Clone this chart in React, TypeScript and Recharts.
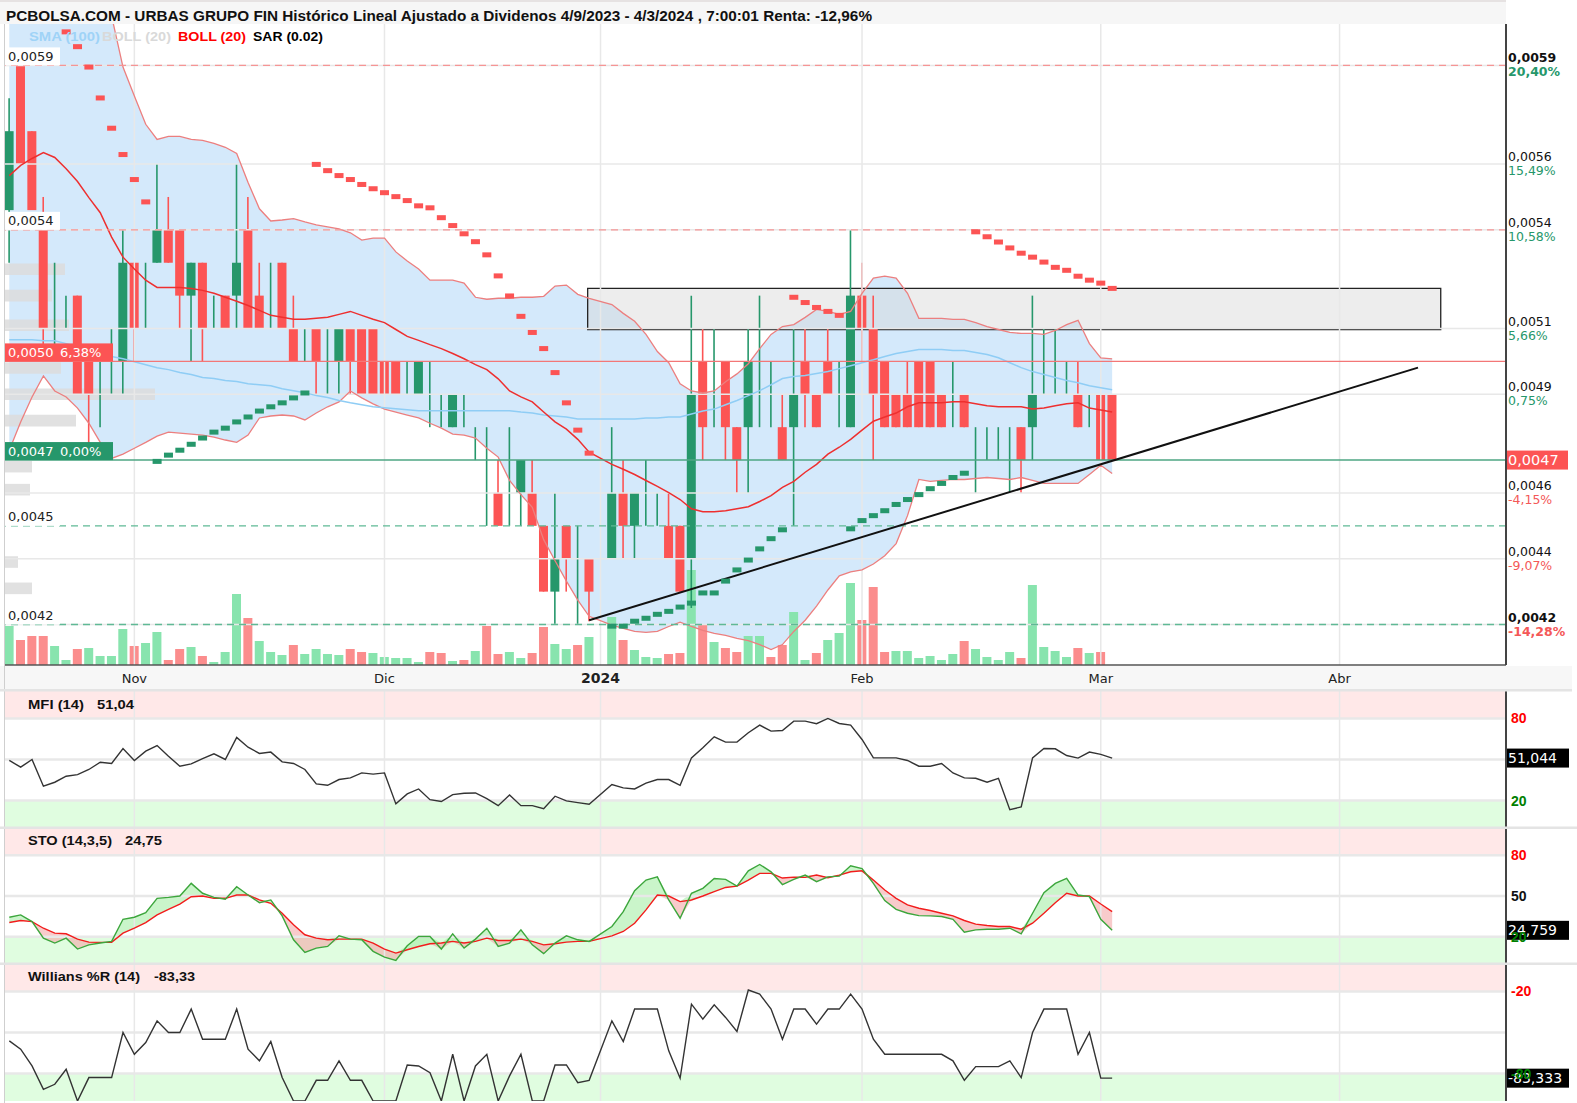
import React from "react";
import { Area, Bar, ComposedChart, Line, ReferenceArea, ReferenceLine, XAxis, YAxis } from "recharts";

// one slot per trading day; slot 52 is the empty 1 Jan gap
const MONTH_SLOTS = [11, 33, 52, 75, 96, 117];
const MONTH_LABELS = ["Nov", "Dic", "2024", "Feb", "Mar", "Abr"];

const OPEN = [
  0.00546, 0.0059, 0.0057, 0.0054, 0.0051, 0.0051, 0.0052, 0.005, 0.0049, 0.005,
  0.005, 0.0053, 0.0051, 0.0053, 0.0054, 0.0054, 0.0052, 0.0053, 0.0051, 0.0052,
  0.0052, 0.0054, 0.0052, 0.0051, 0.0053, 0.0051, 0.005, 0.0051, 0.005, 0.005,
  0.0051, 0.0051, 0.0051, 0.005, 0.005, 0.0049, 0.0049, 0.0049, 0.0048, 0.0048,
  0.0048, 0.0048, 0.0046, 0.0046, 0.0046, 0.0046, 0.0046, 0.0045, 0.0043, 0.0045,
  0.0043, 0.0044, null, 0.0044, 0.0046, 0.0045, 0.0046, 0.0046, 0.0045, 0.0045,
  0.0044, 0.005, 0.0049, 0.005, 0.0048, 0.0048, 0.005, 0.0049, 0.0048, 0.0048,
  0.005, 0.0049, 0.005, 0.0049, 0.0048, 0.0052, 0.0051, 0.005, 0.0049, 0.0049,
  0.005, 0.005, 0.0049, 0.0049, 0.0049, 0.0048, 0.0048, 0.0048, 0.0048, 0.0048,
  0.0048, 0.0049, 0.0049, 0.0049, 0.0049, 0.0048, 0.0049, 0.0049,
];
const HIGH = [
  0.0058, 0.0059, 0.0057, 0.0055, 0.0053, 0.0052, 0.0052, 0.005, 0.005, 0.0051,
  0.0054, 0.0053, 0.0053, 0.0056, 0.0055, 0.0054, 0.0053, 0.0053, 0.0052, 0.0052,
  0.0056, 0.0055, 0.0053, 0.0053, 0.0053, 0.0052, 0.0051, 0.0051, 0.0051, 0.0051,
  0.0051, 0.0051, 0.0051, 0.005, 0.005, 0.005, 0.005, 0.005, 0.0049, 0.0049,
  0.0049, 0.0048, 0.0048, 0.0047, 0.0048, 0.0047, 0.0047, 0.0045, 0.0046, 0.0045,
  0.0045, 0.0044, null, 0.0048, 0.0047, 0.0046, 0.0047, 0.0046, 0.0046, 0.0045,
  0.0052, 0.0051, 0.0051, 0.005, 0.0048, 0.0051, 0.0052, 0.005, 0.0049, 0.0051,
  0.0051, 0.0049, 0.0051, 0.005, 0.0054, 0.0053, 0.0052, 0.005, 0.0049, 0.005,
  0.005, 0.005, 0.0049, 0.005, 0.0049, 0.0048, 0.0048, 0.0048, 0.0048, 0.0048,
  0.0052, 0.0051, 0.0051, 0.005, 0.005, 0.0049, 0.0049, 0.0049,
];
const LOW = [
  0.0053, 0.0056, 0.00546, 0.00505, 0.00505, 0.0051, 0.0049, 0.00475, 0.0048, 0.0049,
  0.0049, 0.005, 0.0051, 0.0053, 0.0053, 0.0051, 0.005, 0.005, 0.0051, 0.0051,
  0.0051, 0.0051, 0.0051, 0.0051, 0.0051, 0.005, 0.005, 0.0049, 0.0049, 0.0049,
  0.0049, 0.0049, 0.0049, 0.0049, 0.0049, 0.0049, 0.0049, 0.0048, 0.0048, 0.0048,
  0.0048, 0.0047, 0.0045, 0.0045, 0.0045, 0.0045, 0.0045, 0.0043, 0.0042, 0.0043,
  0.0042, 0.00421, null, 0.0044, 0.0044, 0.0044, 0.0045, 0.0045, 0.0044, 0.0043,
  0.00425, 0.0047, 0.0048, 0.0047, 0.0046, 0.0046, 0.0048, 0.0048, 0.0047, 0.0045,
  0.0048, 0.0048, 0.0049, 0.0048, 0.0048, 0.005, 0.0047, 0.0048, 0.0048, 0.0048,
  0.0048, 0.0048, 0.0048, 0.0048, 0.0048, 0.0046, 0.0047, 0.0047, 0.0046, 0.0046,
  0.0047, 0.0049, 0.0049, 0.0049, 0.0048, 0.0048, 0.0047, 0.0047,
];
const CLOSE = [
  0.0057, 0.0056, 0.00546, 0.0051, 0.0051, 0.0051, 0.0049, 0.0049, 0.0049, 0.005,
  0.0053, 0.0051, 0.0051, 0.0054, 0.0053, 0.0052, 0.0053, 0.0051, 0.0051, 0.0051,
  0.0053, 0.0051, 0.0051, 0.0051, 0.0051, 0.005, 0.005, 0.005, 0.005, 0.0051,
  0.005, 0.0049, 0.0049, 0.0049, 0.0049, 0.0049, 0.005, 0.0049, 0.0048, 0.0049,
  0.0048, 0.0048, 0.0046, 0.0045, 0.0046, 0.0047, 0.0045, 0.0043, 0.0044, 0.0044,
  0.0043, 0.0043, null, 0.0046, 0.0045, 0.0046, 0.0046, 0.0046, 0.0044, 0.0043,
  0.0049, 0.0048, 0.0049, 0.0048, 0.0047, 0.005, 0.005, 0.0049, 0.0047, 0.0049,
  0.0049, 0.0048, 0.0049, 0.0049, 0.0052, 0.0051, 0.0049, 0.0048, 0.0048, 0.0048,
  0.0048, 0.0048, 0.0048, 0.0049, 0.0048, 0.0048, 0.0048, 0.0048, 0.0048, 0.0047,
  0.0049, 0.0049, 0.0049, 0.0049, 0.0048, 0.0048, 0.0047, 0.0047,
];
const VOLUME = [
  39, 25, 29, 29, 19, 5, 16, 17, 9, 9, 36, 19, 22, 33, 5, 16, 18, 9, 3, 13,
  71, 47, 24, 13, 10, 20, 11, 16, 11, 10, 16, 13, 12, 8, 7, 7, 3, 13, 12, 4,
  5, 14, 39, 11, 13, 7, 12, 38, 21, 16, 20, 28, null, 48, 25, 15, 8, 7, 11, 12,
  95, 40, 23, 17, 13, 29, 29, 8, 20, 53, 5, 12, 25, 32, 82, 45, 78, 13, 14, 14,
  7, 9, 5, 11, 24, 16, 8, 5, 13, 7, 80, 18, 14, 8, 17, 12, 13, 0,
];
const BOLL_UPPER = [
  0.0067, 0.0066, 0.0065, 0.0063, 0.0063, 0.0063, 0.0063, 0.0062, 0.0061, 0.00605,
  0.005895, 0.005807, 0.005721, 0.005675, 0.005684, 0.005684, 0.005675, 0.005672, 0.005663, 0.005651,
  0.005632, 0.005544, 0.005464, 0.005427, 0.00543, 0.005434, 0.005424, 0.005415, 0.005409, 0.005403,
  0.005391, 0.005369, 0.005375, 0.005375, 0.005333, 0.005305, 0.005281, 0.005247, 0.005247, 0.005247,
  0.005238, 0.005195, 0.005189, 0.005192, 0.005192, 0.005195, 0.005195, 0.005198, 0.005229, 0.005232,
  0.005204, 0.005192, null, 0.005173, 0.005146, 0.005122, 0.005082, 0.00503, 0.004996, 0.004932,
  0.00491, 0.004904, 0.00491, 0.004938, 0.004962, 0.004993, 0.005039, 0.005082, 0.005106, 0.005112,
  0.005134, 0.005158, 0.005152, 0.005143, 0.005152, 0.005207, 0.005253, 0.005259, 0.005253, 0.005207,
  0.005131, 0.005131, 0.005131, 0.005128, 0.005128, 0.005118, 0.005106, 0.005097, 0.005088, 0.005085,
  0.005085, 0.005082, 0.005094, 0.005112, 0.005125, 0.005054, 0.005011, 0.005008,
];
const BOLL_MID = [
  0.005565, 0.005596, 0.005617, 0.005635, 0.00562, 0.005586, 0.005547, 0.005498, 0.005452, 0.005378,
  0.005317, 0.005281, 0.005247, 0.005225, 0.005225, 0.005225, 0.005222, 0.005216, 0.005207, 0.005195,
  0.005183, 0.00517, 0.005155, 0.00514, 0.005134, 0.005128, 0.005128, 0.005131, 0.005134, 0.005143,
  0.005152, 0.00514, 0.005128, 0.005118, 0.005097, 0.005076, 0.005064, 0.005051, 0.005039, 0.005024,
  0.005008, 0.00499, 0.004975, 0.004947, 0.00491, 0.004892, 0.004877, 0.004846, 0.004816, 0.004794,
  0.004763, 0.004724, null, 0.004687, 0.004672, 0.004656, 0.004638, 0.00462, 0.004601, 0.00458,
  0.004552, 0.004543, 0.004543, 0.004546, 0.004552, 0.004558, 0.004574, 0.004592, 0.004617, 0.004635,
  0.004663, 0.004687, 0.004718, 0.004739, 0.004763, 0.004791, 0.004818, 0.004831, 0.004843, 0.004862,
  0.004874, 0.004874, 0.004874, 0.004877, 0.004877, 0.004871, 0.004865, 0.004862, 0.004862, 0.004862,
  0.004855, 0.004858, 0.004865, 0.004871, 0.004874, 0.004858, 0.004852, 0.004846,
];
const BOLL_LOWER = [
  0.00473, 0.004816, 0.004892, 0.004956, 0.00491, 0.004892, 0.004858, 0.004812, 0.004754, 0.004705,
  0.004718, 0.004736, 0.004754, 0.004773, 0.004785, 0.004782, 0.004779, 0.004776, 0.00477, 0.004761,
  0.004754, 0.004776, 0.004828, 0.004834, 0.004837, 0.004834, 0.004822, 0.004843, 0.004862, 0.004877,
  0.00491, 0.004889, 0.004871, 0.004855, 0.004846, 0.004837, 0.004828, 0.004812, 0.004797, 0.004779,
  0.004776, 0.004767, 0.004736, 0.004709, 0.004638, 0.004595, 0.004556, 0.004458, 0.004394, 0.004332,
  0.004274, 0.004225, null, 0.004198, 0.004188, 0.004179, 0.004176, 0.004179, 0.004194, 0.004207,
  0.004194, 0.004182, 0.004173, 0.004167, 0.004158, 0.004151, 0.004139, 0.004124, 0.004139, 0.004179,
  0.004213, 0.004256, 0.004305, 0.004348, 0.00436, 0.004366, 0.004384, 0.004409, 0.004446, 0.004531,
  0.004641, 0.004635, 0.004638, 0.004641, 0.004641, 0.004644, 0.004647, 0.004644, 0.004641, 0.004647,
  0.004638, 0.004629, 0.004629, 0.004629, 0.004629, 0.004656, 0.004684, 0.004659,
];
const SMA100 = [
  0.005066, 0.005066, 0.005066, 0.005063, 0.005063, 0.005054, 0.005045, 0.005033, 0.005021, 0.005015,
  0.005008, 0.004999, 0.00499, 0.004981, 0.004975, 0.004966, 0.00496, 0.004951, 0.004948, 0.004942,
  0.004939, 0.004932, 0.004929, 0.004926, 0.004917, 0.004911, 0.004905, 0.004896, 0.00489, 0.004881,
  0.004874, 0.004868, 0.004862, 0.004859, 0.004856, 0.004853, 0.00485, 0.00485, 0.00485, 0.00485,
  0.00485, 0.00485, 0.00485, 0.00485, 0.00485, 0.004846, 0.004843, 0.004837, 0.004834, 0.004831,
  0.004825, 0.004825, null, 0.004825, 0.004825, 0.004825, 0.004828, 0.004828, 0.004831, 0.004831,
  0.00484, 0.004849, 0.004855, 0.004868, 0.004881, 0.004896, 0.004911, 0.004929, 0.004948, 0.004954,
  0.004957, 0.004963, 0.004969, 0.004978, 0.004987, 0.004996, 0.005005, 0.005015, 0.005024, 0.00503,
  0.005036, 0.005036, 0.005036, 0.005033, 0.005033, 0.005027, 0.005021, 0.005011, 0.004996, 0.004981,
  0.004969, 0.00496, 0.004951, 0.004942, 0.004935, 0.004926, 0.00492, 0.004914,
];
const SAR = [
  null, null, null, null, null, 0.006002, 0.005957, 0.005895, 0.005801, 0.005709,
  0.005629, 0.005553, 0.005485, 0.004696, 0.004715, 0.00473, 0.004748, 0.004767, 0.004785, 0.004797,
  0.004816, 0.004831, 0.004849, 0.004862, 0.004874, 0.004889, 0.004904, 0.005599, 0.00558, 0.005565,
  0.005553, 0.005538, 0.005525, 0.005513, 0.005501, 0.005489, 0.005473, 0.005467, 0.005437, 0.005413,
  0.005388, 0.005364, 0.005324, 0.00526, 0.005199, 0.005137, 0.005088, 0.005039, 0.004966, 0.004874,
  0.004791, 0.004721, null, 0.004195, 0.004195, 0.00421, 0.004219, 0.004231, 0.00424, 0.004253,
  0.004265, 0.004296, 0.004296, 0.004332, 0.004366, 0.004396, 0.00443, 0.004461, 0.004488, 0.005195,
  0.005179, 0.005164, 0.005152, 0.00514, 0.004491, 0.004516, 0.004531, 0.004546, 0.004565, 0.00458,
  0.004595, 0.004613, 0.004629, 0.004647, 0.00466, 0.005394, 0.005379, 0.005363, 0.005345, 0.005329,
  0.005317, 0.005302, 0.005286, 0.005277, 0.005259, 0.005247, 0.005238, 0.005222,
];
const MFI = [
  49.3, 44.4, 50.0, 30.5, 33.4, 37.8, 39.0, 42.7, 48.0, 47.1, 58.0, 49.3, 56.1, 60.2, 52.4, 45.1, 46.8, 50.7, 54.1, 50.0,
  66.1, 59.0, 54.4, 55.4, 48.3, 47.1, 42.7, 32.2, 31.2, 35.4, 36.6, 40.2, 39.3, 40.2, 17.6, 24.9, 28.5, 20.7, 19.3, 24.4,
  25.4, 25.6, 21.5, 16.3, 24.1, 16.3, 16.3, 14.1, 23.2, 19.8, 18.5, 17.3, null, 31.7, 29.3, 28.5, 32.7, 35.4, 35.4, 31.2,
  51.2, 58.5, 66.6, 62.7, 62.7, 69.5, 75.1, 70.7, 71.2, 78.0, 78.0, 76.1, 80.0, 76.3, 75.1, 64.6, 51.2, 51.2, 51.2, 49.3,
  45.1, 45.1, 47.1, 40.2, 36.6, 36.3, 33.4, 36.3, 13.4, 15.4, 51.2, 58.0, 57.8, 52.9, 51.0, 55.4, 53.7, 51.04,
];
const STO_K = [
  34.4, 36.1, 31.2, 19.0, 15.4, 19.0, 11.0, 14.1, 15.4, 16.6, 32.9, 34.4, 37.8, 48.3, 49.0, 50.0, 59.3, 52.0, 49.0, 47.6,
  56.8, 50.7, 45.1, 47.1, 35.4, 17.8, 8.5, 11.7, 12.9, 20.7, 18.3, 17.8, 9.3, 5.1, 2.7, 13.4, 20.2, 20.2, 11.0, 22.2,
  11.7, 18.3, 26.3, 12.9, 15.4, 25.1, 14.1, 7.6, 15.4, 20.7, 17.8, 16.6, null, 27.6, 38.5, 53.9, 61.7, 64.1, 47.1, 33.7,
  52.0, 55.6, 62.9, 62.2, 57.3, 68.5, 73.2, 67.8, 58.4, 62.3, 65.4, 60.5, 64.1, 64.6, 72.2, 70.2, 59.3, 46.6, 40.2, 37.3,
  35.6, 35.4, 34.9, 32.9, 23.4, 25.1, 25.6, 25.6, 26.3, 22.2, 37.3, 52.4, 59.3, 62.9, 50.7, 49.5, 32.9, 24.76,
];
const STO_D = [
  30.5, 32.0, 31.2, 26.3, 22.7, 22.2, 18.3, 16.1, 15.9, 15.9, 22.7, 26.3, 30.5, 36.1, 40.2, 44.1, 49.5, 50.0, 48.3, 48.3,
  50.7, 50.7, 47.1, 44.6, 37.3, 28.8, 21.5, 19.0, 17.8, 18.3, 18.3, 18.3, 15.4, 11.0, 8.0, 10.5, 12.9, 14.9, 15.4, 16.6,
  15.4, 16.6, 19.0, 17.3, 17.3, 18.3, 16.6, 14.1, 14.9, 16.1, 16.6, 16.6, null, 20.7, 23.9, 30.0, 39.8, 50.7, 50.0, 45.9,
  47.1, 50.0, 53.2, 56.3, 57.3, 61.7, 66.6, 66.6, 63.2, 63.9, 63.7, 65.4, 63.4, 65.4, 67.8, 68.5, 61.7, 54.4, 48.3, 43.4,
  41.0, 39.3, 37.3, 35.4, 32.0, 29.3, 28.3, 27.6, 27.6, 25.6, 30.0, 37.3, 45.1, 52.0, 50.0, 50.0, 44.1, 38.5,
];
const WILLIAMS = [
  -56.1, -62.2, -74.4, -91.5, -87.8, -76.8, -100, -82.9, -82.9, -82.9, -50, -65.9, -57.3, -41.5, -50, -50, -32.9, -54.9, -54.9, -54.9,
  -32.9, -62.2, -70.7, -56.6, -82.9, -100, -100, -84.9, -84.9, -70.7, -84.9, -84.9, -100, -100, -100, -73.7, -74.4, -79.3, -100, -65.9,
  -100, -74.4, -65.9, -100, -81.7, -65.9, -100, -100, -73.7, -73.7, -86.6, -84.9, null, -41.5, -56.6, -32.9, -32.9, -32.9, -63.4, -83.4,
  -29.3, -40.2, -29.8, -39.0, -49.3, -19.0, -22.0, -32.9, -54.9, -32.9, -32.9, -43.9, -32.9, -32.9, -22.0, -32.9, -54.9, -65.9, -65.9, -65.9,
  -65.9, -65.9, -65.9, -70.7, -84.9, -74.9, -74.9, -74.9, -70.7, -82.9, -50, -32.9, -32.9, -32.9, -65.9, -50, -83.3, -83.333,
];

// price axis
const PRICE_TICKS = [0.0059, 0.0056, 0.0054, 0.0051, 0.0049, 0.0046, 0.0044, 0.0042];
const TICK_PCT = ["20,40%", "15,49%", "10,58%", "5,66%", "0,75%", "-4,15%", "-9,07%", "-14,28%"];
const DASH_RED = [0.0059, 0.0054];
const DASH_GREEN = [0.0045, 0.0042];
const RES_LEVEL = 0.005;
const RES_PCT = "6,38%";
const LAST_PRICE = 0.0047;
const LAST_PCT = "0,00%";

// volume at price (left histogram)
const PROFILE_PRICE = [0.00528, 0.0052, 0.00511, 0.00498, 0.0049, 0.00482, 0.00468, 0.00461, 0.00439, 0.00431];
const PROFILE_VOL = [60, 47, 64, 56, 150, 71, 27, 25, 13, 27];

// drawn annotations: box and support line
const ZONE = { x1: 50.87, x2: 125.9, y1: 0.005097, y2: 0.005222 };
const TREND = [{ x: 51, y: 0.004213 }, { x: 123.9, y: 0.004981 }];

const MFI_LAST = "51,044";
const STO_LAST = "24,759";
const WR_LAST = "-83,333";

const X_DOMAIN: [number, number] = [-0.378, 131.64];
const PRICE_DOMAIN: [number, number] = [0.0040769, 0.0060259];
const GREEN = "#26976b";
const RED = "#fc5454";
const GRID = "#e8e8e8";
const FONT = "DejaVu Sans, Verdana, sans-serif";
const NARROW = "Liberation Sans Narrow, Liberation Sans, Arial, sans-serif";

const rows: any[] = [];
let prevClose: number | null = null;
OPEN.forEach((o, i) => {
  if (o == null) return;
  const c = CLOSE[i] as number;
  rows.push({
    slot: i, open: o, high: HIGH[i], low: LOW[i], close: c,
    upper: BOLL_UPPER[i], mid: BOLL_MID[i], lower: BOLL_LOWER[i], sma: SMA100[i], sar: SAR[i],
    vol: VOLUME[i], volUp: prevClose == null || c >= prevClose,
    mfi: MFI[i], k: STO_K[i], d: STO_D[i], wr: WILLIAMS[i],
  });
  prevClose = c;
});

const fmt = (v: number, d = 4) => v.toFixed(d).replace(".", ",");

function Candle(props: any) {
  const { x, y, width, height, payload } = props;
  if (!payload || payload.open == null) return <g />;
  const { open, high, low, close } = payload;
  const top = Math.min(y, y + height);
  const h = Math.abs(height);
  const span = high - low;
  const toY = (v: number) => (span > 0 ? top + ((high - v) / span) * h : top);
  const color = close >= open ? GREEN : RED;
  const cx = x + width / 2;
  const bTop = toY(Math.max(open, close));
  const bBot = toY(Math.min(open, close));
  return (
    <g>
      <line x1={cx} x2={cx} y1={top} y2={top + h} stroke={color} strokeWidth={1.6} />
      {bBot - bTop > 0.5 && <rect x={x} y={bTop} width={width} height={bBot - bTop} fill={color} />}
    </g>
  );
}

function VolBar(props: any) {
  const { x, y, width, height, payload } = props;
  if (!height || height <= 0) return <g />;
  return <rect x={x} y={y} width={width} height={height} fill={payload.volUp ? "#88e4ae" : "#fb8d8d"} />;
}

function sarDot(p: any) {
  const { cx, cy, payload, index } = p;
  if (cx == null || cy == null || !payload || payload.sar == null) return <g key={`s${index}`} />;
  const above = payload.sar > payload.close;
  return <rect key={`s${index}`} x={cx - 4.5} y={cy - 2.5} width={9} height={5} fill={above ? RED : GREEN} />;
}

function MonthTick(props: any) {
  const { x, y, payload } = props;
  const label = MONTH_LABELS[MONTH_SLOTS.indexOf(payload.value)] ?? "";
  const bold = label === "2024";
  return (
    <text x={x} y={y + 16} textAnchor="middle" fontFamily={FONT} fontSize={bold ? 14 : 13} fontWeight={bold ? 700 : 400} fill="#222">
      {label}
    </text>
  );
}

function PriceTick(props: any) {
  const { x, y, payload } = props;
  const i = PRICE_TICKS.indexOf(payload.value);
  if (i < 0) return <g />;
  const bold = i === 0 || i === PRICE_TICKS.length - 1;
  const pct = TICK_PCT[i];
  return (
    <g fontFamily={FONT} fontSize={12.5} fontWeight={bold ? 700 : 400}>
      <text x={x} y={y - 3} fill="#111">{fmt(payload.value)}</text>
      <text x={x} y={y + 11} fill={pct.startsWith("-") ? "#f45858" : GREEN}>{pct}</text>
    </g>
  );
}

function LeftLabel(props: any) {
  const { viewBox, text, pct, bg, color, w } = props;
  if (!viewBox) return <g />;
  const x = viewBox.x;
  const y = viewBox.y;
  return (
    <g fontFamily={FONT} fontSize={13}>
      <rect x={x} y={y - 18} width={w} height={18} fill={bg} />
      <text x={x + 3} y={y - 4.5} fill={color}>{text}</text>
      {pct && <text x={x + 55} y={y - 4.5} fill={color}>{pct}</text>}
    </g>
  );
}

function RightBox(props: any) {
  const { viewBox, text, bg, w, fontSize } = props;
  if (!viewBox) return <g />;
  const x = viewBox.x + viewBox.width - 1;
  const y = viewBox.y;
  return (
    <g>
      <rect x={x} y={y - 9.5} width={w} height={19} fill={bg} />
      <text x={x + 3} y={y + 5} fill="#fff" fontFamily={FONT} fontSize={fontSize}>{text}</text>
    </g>
  );
}

function LevelTick(props: any) {
  const { x, y, payload, colors } = props;
  const c = colors[String(payload.value)] ?? "#111";
  return (
    <text x={x + 3} y={y + 5} fill={c} fontFamily={NARROW} fontWeight={700} fontSize={14}>
      {payload.value}
    </text>
  );
}

function monthLines(yAxisId?: string) {
  return MONTH_SLOTS.map((s) => (
    <ReferenceLine key={`m${s}`} x={s} yAxisId={yAxisId} stroke={GRID} strokeWidth={1.5} />
  ));
}

function panelBack(hiZone: [number, number], loZone: [number, number], lines: number[]) {
  return [
    <ReferenceArea key="hz" y1={hiZone[0]} y2={hiZone[1]} fill="#ffe8e8" fillOpacity={1} stroke="none" />,
    <ReferenceArea key="lz" y1={loZone[0]} y2={loZone[1]} fill="#e0fde0" fillOpacity={1} stroke="none" />,
    ...lines.map((v) => <ReferenceLine key={`h${v}`} y={v} stroke={GRID} strokeWidth={2.5} />),
    ...monthLines(),
  ];
}

function MainChart() {
  return (
    <ComposedChart width={1577} height={691} data={rows} margin={{ top: 24, right: 0, bottom: 0, left: 5 }}>
      <XAxis dataKey="slot" type="number" domain={X_DOMAIN} allowDataOverflow ticks={MONTH_SLOTS} interval={0}
        height={26} tickLine={false} tickSize={0} tickMargin={2} axisLine={{ stroke: "#555", strokeWidth: 1.5 }} tick={<MonthTick />} />
      <XAxis xAxisId="v" dataKey="slot" type="number" domain={X_DOMAIN} allowDataOverflow hide />
      <XAxis xAxisId="prof" dataKey="slot" type="number" domain={[0, 1501]} allowDataOverflow hide />
      <YAxis yAxisId="p" orientation="right" width={71} domain={PRICE_DOMAIN} allowDataOverflow ticks={PRICE_TICKS}
        interval={0} tickLine={false} tickSize={0} tickMargin={2} axisLine={{ stroke: "#444", strokeWidth: 2 }} tick={<PriceTick />} />
      <YAxis yAxisId="vol" hide domain={[0, 641]} />

      {monthLines("p")}
      {PRICE_TICKS.map((v) => (
        <ReferenceLine key={`g${v}`} yAxisId="p" y={v} stroke={GRID} strokeWidth={1.5} />
      ))}

      <Area yAxisId="p" dataKey={(r: any) => [r.lower, r.upper]} fill="#d4e9fb" fillOpacity={1} stroke="none"
        isAnimationActive={false} activeDot={false} />

      {PROFILE_PRICE.map((p, i) => (
        <ReferenceArea key={`pr${i}`} xAxisId="prof" yAxisId="p" x1={0} x2={PROFILE_VOL[i]} y1={p - 0.0000176} y2={p + 0.0000176}
          fill="#dcdcdc" fillOpacity={0.85} stroke="none" />
      ))}

      <Bar xAxisId="v" yAxisId="vol" dataKey="vol" barSize={9} shape={(p: any) => <VolBar {...p} />} isAnimationActive={false} />

      <Line yAxisId="p" dataKey="upper" stroke="#ec7f7f" strokeWidth={1.3} dot={false} activeDot={false} isAnimationActive={false} />
      <Line yAxisId="p" dataKey="lower" stroke="#ec7f7f" strokeWidth={1.3} dot={false} activeDot={false} isAnimationActive={false} />
      <Line yAxisId="p" dataKey="sma" stroke="#8fcdf5" strokeWidth={1.5} dot={false} activeDot={false} isAnimationActive={false} />
      <Line yAxisId="p" dataKey="mid" stroke="#ee2f2f" strokeWidth={1.5} dot={false} activeDot={false} isAnimationActive={false} />

      {DASH_RED.map((v) => (
        <ReferenceLine key={`dr${v}`} yAxisId="p" y={v} stroke="#f59595" strokeWidth={1.3} strokeDasharray="7 5"
          label={<LeftLabel text={fmt(v)} bg="#fff" color="#222" w={55} />} />
      ))}
      {DASH_GREEN.map((v) => (
        <ReferenceLine key={`dg${v}`} yAxisId="p" y={v} stroke="#5fb995" strokeWidth={1.3} strokeDasharray="7 5"
          label={<LeftLabel text={fmt(v)} bg="#fff" color="#222" w={55} />} />
      ))}
      <ReferenceLine yAxisId="p" y={RES_LEVEL} stroke="#f37777" strokeWidth={1.4}
        label={<LeftLabel text={fmt(RES_LEVEL)} pct={RES_PCT} bg={RED} color="#fff" w={108} />} />

      <Bar yAxisId="p" dataKey={(r: any) => [r.low, r.high]} barSize={9} shape={(p: any) => <Candle {...p} />} isAnimationActive={false} />

      <ReferenceLine yAxisId="p" y={LAST_PRICE} stroke="#4ea683" strokeWidth={1.4}
        label={<LeftLabel text={fmt(LAST_PRICE)} pct={LAST_PCT} bg={GREEN} color="#fff" w={108} />} />
      <ReferenceLine yAxisId="p" y={LAST_PRICE} stroke="none" strokeOpacity={0}
        label={<RightBox text={fmt(LAST_PRICE)} bg={RED} w={63} fontSize={14.5} />} />

      <Line yAxisId="p" dataKey="sar" stroke="none" strokeWidth={0} dot={sarDot} activeDot={false} isAnimationActive={false} />

      <ReferenceArea yAxisId="p" x1={ZONE.x1} x2={ZONE.x2} y1={ZONE.y1} y2={ZONE.y2} fill="#d6d6d6" fillOpacity={0.45}
        stroke="#222" strokeWidth={1.3} />
      <ReferenceLine yAxisId="p" segment={TREND} stroke="#111" strokeWidth={2} />
    </ComposedChart>
  );
}

function IndicatorChart(props: { height: number; domain: [number, number]; ticks: number[]; colors: Record<string, string>;
  hi: [number, number]; lo: [number, number]; lines: number[]; last: number; lastText: string; children: any }) {
  const { height, domain, ticks, colors, hi, lo, lines, last, lastText, children } = props;
  return (
    <ComposedChart width={1577} height={height} data={rows} margin={{ top: 0, right: 0, bottom: 0, left: 5 }}>
      <XAxis dataKey="slot" type="number" domain={X_DOMAIN} allowDataOverflow hide />
      <YAxis orientation="right" width={71} domain={domain} allowDataOverflow ticks={ticks} interval={0} tickLine={false}
        tickSize={0} tickMargin={2} axisLine={{ stroke: "#444", strokeWidth: 2 }} tick={<LevelTick colors={colors} />} />
      {panelBack(hi, lo, lines)}
      {children}
      <ReferenceLine y={last} stroke="none" strokeOpacity={0} label={<RightBox text={lastText} bg="#000" w={64} fontSize={14} />} />
    </ComposedChart>
  );
}

export default function App() {
  return (
    <div style={{ position: "absolute", left: 0, top: 0, width: 1577, height: 1103, background: "#fff", fontFamily: FONT }}>
      <div style={{ position: "absolute", left: 0, top: 0, width: 1506, height: 24, background: "#f6f6f6", borderTop: "2px solid #e6e2e2", boxSizing: "border-box" }} />
      <div style={{ position: "absolute", left: 0, top: 666, width: 1572, height: 24, background: "#f7f7f7" }} />

      <div style={{ position: "absolute", left: 0, top: 0 }}>
        <MainChart />
      </div>
      <div style={{ position: "absolute", left: 0, top: 691 }}>
        <IndicatorChart height={137} domain={[0, 100]} ticks={[20, 80]} colors={{ "80": "#ff0000", "20": "#008000" }}
          hi={[80, 100]} lo={[0, 20]} lines={[20, 50, 80]} last={51.044} lastText={MFI_LAST}>
          <Line dataKey="mfi" stroke="#333" strokeWidth={1.4} dot={false} activeDot={false} isAnimationActive={false} />
        </IndicatorChart>
      </div>
      <div style={{ position: "absolute", left: 0, top: 828 }}>
        <IndicatorChart height={136} domain={[0, 100]} ticks={[20, 50, 80]} colors={{ "80": "#ff0000", "50": "#111", "20": "#008000" }}
          hi={[80, 100]} lo={[0, 20]} lines={[20, 50, 80]} last={24.759} lastText={STO_LAST}>
          <Area dataKey={(r: any) => [r.d, Math.max(r.k, r.d)]} fill="#a6eea6" fillOpacity={0.6} stroke="none" activeDot={false} isAnimationActive={false} />
          <Area dataKey={(r: any) => [Math.min(r.k, r.d), r.d]} fill="#f3a9a9" fillOpacity={0.6} stroke="none" activeDot={false} isAnimationActive={false} />
          <Line dataKey="d" stroke="#f21c1c" strokeWidth={1.4} dot={false} activeDot={false} isAnimationActive={false} />
          <Line dataKey="k" stroke="#3ca63c" strokeWidth={1.4} dot={false} activeDot={false} isAnimationActive={false} />
        </IndicatorChart>
      </div>
      <div style={{ position: "absolute", left: 0, top: 964 }}>
        <IndicatorChart height={137} domain={[-100, 0]} ticks={[-80, -20]} colors={{ "-20": "#ff0000", "-80": "#008000" }}
          hi={[-20, 0]} lo={[-100, -80]} lines={[-80, -50, -20]} last={-83.333} lastText={WR_LAST}>
          <Line dataKey="wr" stroke="#333" strokeWidth={1.4} dot={false} activeDot={false} isAnimationActive={false} />
        </IndicatorChart>
      </div>

      <svg width={1577} height={1103} style={{ position: "absolute", left: 0, top: 0, pointerEvents: "none" }}>
        <line x1={4.5} x2={4.5} y1={24} y2={1103} stroke="#cfcfcf" strokeWidth={1} />
        <rect x={0} y={689} width={1572} height={2.5} fill="#e4e4e4" />
        <rect x={0} y={826.5} width={1577} height={2.5} fill="#e4e4e4" />
        <rect x={0} y={962.5} width={1577} height={2.5} fill="#e4e4e4" />
        <text x={6} y={20.5} fontFamily={NARROW} fontWeight={700} fontSize={14.5} fill="#111" textLength={866} lengthAdjust="spacingAndGlyphs">
          PCBOLSA.COM - URBAS GRUPO FIN Histórico Lineal Ajustado a Dividenos 4/9/2023 - 4/3/2024 , 7:00:01 Renta: -12,96%
        </text>
        <g fontFamily={NARROW} fontWeight={700} fontSize={13}>
          <text x={29} y={41} fill="#9fd3f7" textLength={71} lengthAdjust="spacingAndGlyphs">SMA (100)</text>
          <text x={102} y={41} fill="#d9d9d9" textLength={69} lengthAdjust="spacingAndGlyphs">BOLL (20)</text>
          <text x={178} y={41} fill="#ff0000" textLength={68} lengthAdjust="spacingAndGlyphs">BOLL (20)</text>
          <text x={253} y={41} fill="#000" textLength={70} lengthAdjust="spacingAndGlyphs">SAR (0.02)</text>
        </g>
        <g fontFamily={NARROW} fontWeight={700} fontSize={13.5} fill="#111">
          <text x={28} y={709} textLength={56} lengthAdjust="spacingAndGlyphs">MFI (14)</text>
          <text x={97} y={709} textLength={37} lengthAdjust="spacingAndGlyphs">51,04</text>
          <text x={28} y={845} textLength={84} lengthAdjust="spacingAndGlyphs">STO (14,3,5)</text>
          <text x={125} y={845} textLength={37} lengthAdjust="spacingAndGlyphs">24,75</text>
          <text x={28} y={981} textLength={112} lengthAdjust="spacingAndGlyphs">Willians %R (14)</text>
          <text x={154} y={981} textLength={41} lengthAdjust="spacingAndGlyphs">-83,33</text>
        </g>
      </svg>
    </div>
  );
}
